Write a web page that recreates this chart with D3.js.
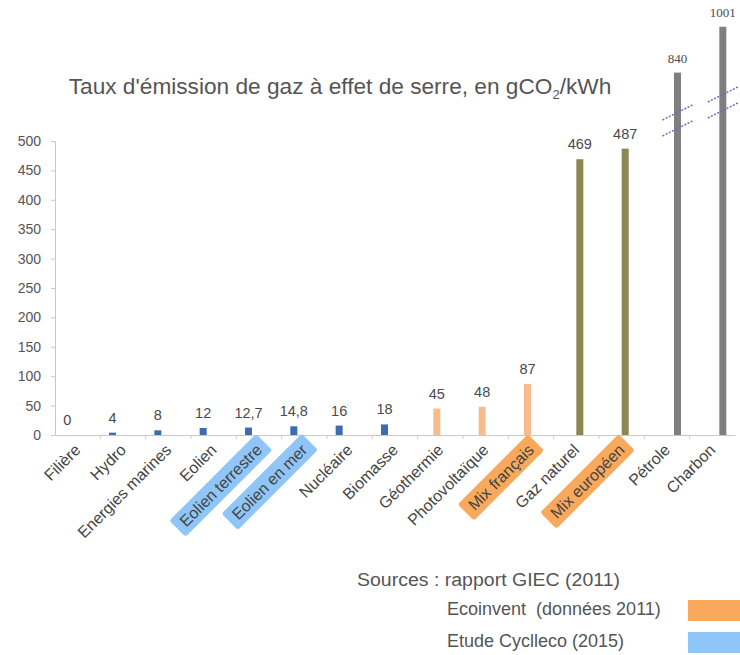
<!DOCTYPE html>
<html><head><meta charset="utf-8">
<script src="https://cdn.jsdelivr.net/npm/d3@7"></script>
<style>body{margin:0;background:#fff;} svg{display:block;font-family:Arial,"Liberation Sans",sans-serif;}</style>
</head><body>
<svg id="chart" width="740" height="655"></svg>
<script>
// ---- data ----
const categories = ["Filière","Hydro","Energies marines","Eolien","Eolien terrestre","Eolien en mer","Nucléaire","Biomasse","Géothermie","Photovoltaïque","Mix français","Gaz naturel","Mix européen","Pétrole","Charbon"];
const values = [0,4,8,12,12.7,14.8,16,18,45,48,87,469,487,840,1001];
const valueLabels = ["0","4","8","12","12,7","14,8","16","18","45","48","87","469","487","840","1001"];
const seriesOf = [0,0,0,0,0,0,0,0,1,1,1,2,2,3,3];
const seriesColors = ["#3c6db2","#f8bc8c","#8c8753","#7f7f7f"];
const highlightOf = [null,null,null,null,"cycleco","cycleco",null,null,null,null,"ecoinvent",null,"ecoinvent",null,null];
const breakAt = [null,null,null,null,null,null,null,null,null,null,null,null,null,672,735];
const yTicks = [0,50,100,150,200,250,300,350,400,450,500];
const legendItems = [{key:"ecoinvent",label:"Ecoinvent  (données 2011)",color:"#f9a95b"},{key:"cycleco",label:"Etude Cyclleco (2015)",color:"#8fc5f8"}];
const sourceText = "Sources : rapport GIEC (2011)";

const svg = d3.select("#chart");
const textColor = "#555";

// scales
const x = d3.scaleBand().domain(categories).range([55, 735]).padding(0);
const bw = x.bandwidth();
const xSub = d3.scaleBand().domain([0,1,2,3]).range([bw/2-14, bw/2+14]);
// broken value axis: 0-500 linear, bars above 600 drawn on compressed segment
const y = d3.scaleLinear().domain([0,500,600,1000]).range([435,141,141,27]);

// title
const title = svg.append("text").attr("x",340).attr("y",94).attr("text-anchor","middle")
  .attr("fill",textColor).style("font-size","20px");
title.append("tspan").text("Taux d'émission de gaz à effet de serre, en gCO");
title.append("tspan").text("2").style("font-size","13px").attr("dy",5);
title.append("tspan").text("/kWh").attr("dy",-5);
const tw = title.node().getComputedTextLength();
title.style("font-size", (20*544/tw)+"px");

// y axis
const yAxisScale = d3.scaleLinear().domain([0,500]).range([435,141]);
const yAxis = svg.append("g").attr("transform","translate(55,0)")
  .call(d3.axisLeft(yAxisScale).tickValues(yTicks).tickSize(4).tickPadding(10));
yAxis.select(".domain").attr("stroke","#c8c8c8");
yAxis.selectAll(".tick line").attr("stroke","#c8c8c8");
yAxis.selectAll(".tick text").attr("fill",textColor).style("font-size","14px").attr("font-family","Arial, Liberation Sans, sans-serif");

// x axis
const xAxis = svg.append("g").attr("transform","translate(0,435)")
  .call(d3.axisBottom(x).tickSize(0).tickFormat(""));
xAxis.select(".domain").attr("stroke","#c8c8c8");
xAxis.selectAll(".tick line").remove();
svg.append("g").selectAll("line").data(categories.slice(1)).join("line")
  .attr("x1",d=>x(d)).attr("x2",d=>x(d)).attr("y1",435).attr("y2",439).attr("stroke","#c8c8c8");

// bars
const barX = (d,i)=> x(d) + xSub(seriesOf[i]);
svg.append("g").selectAll("rect").data(categories).join("rect")
  .attr("x",(d,i)=>barX(d,i)).attr("width",xSub.bandwidth())
  .attr("y",(d,i)=>y(values[i])).attr("height",(d,i)=>y(0)-y(values[i]))
  .attr("fill",(d,i)=>seriesColors[seriesOf[i]]);

// value labels
svg.append("g").selectAll("text").data(categories).join("text")
  .attr("x",(d,i)=>barX(d,i)+xSub.bandwidth()/2)
  .attr("y",(d,i)=>y(values[i])-10)
  .attr("text-anchor","middle").attr("fill","#4a4a4a")
  .style("font-size",(d,i)=>values[i]>500?"13px":"14.5px")
  .style("font-family",(d,i)=>values[i]>500?"'Liberation Serif',serif":"Arial,'Liberation Sans',sans-serif")
  .text((d,i)=>valueLabels[i]);

// break marks on the broken bars
const breakG = svg.append("g");
categories.forEach((d,i)=>{
  if(breakAt[i]==null) return;
  const cx = barX(d,i)+xSub.bandwidth()/2;
  const yc = y(breakAt[i]);
  [-8,8].forEach(off=>{
    breakG.append("line")
      .attr("x1",cx-15).attr("y1",yc+off+7.5)
      .attr("x2",cx+15).attr("y2",yc+off-7.5)
      .attr("stroke","#7468cc").attr("stroke-width",1.5).attr("stroke-dasharray","2,1.5");
  });
});

// x labels
const lab = svg.append("g").selectAll("g").data(categories).join("g")
  .attr("transform",d=>`translate(${x(d)+bw/2+4},451) rotate(-45)`);
lab.each(function(d,i){
  const g = d3.select(this);
  const t = g.append("text").attr("text-anchor","end").attr("fill","#444")
    .style("font-size","16px").text(d);
  if(highlightOf[i]){
    const bb = t.node().getBBox();
    const col = legendItems.find(l=>l.key===highlightOf[i]).color;
    g.insert("rect","text").attr("x",bb.x-7).attr("y",bb.y-3)
      .attr("width",bb.width+14).attr("height",bb.height+6)
      .attr("rx",3).attr("fill",col);
  }
});

// sources + legend
svg.append("text").attr("x",357).attr("y",586).attr("fill",textColor)
  .style("font-size","18px").attr("textLength",263).attr("lengthAdjust","spacingAndGlyphs").text(sourceText);
const leg = svg.append("g").selectAll("g").data(legendItems).join("g")
  .attr("transform",(d,i)=>`translate(0,${i*32})`);
leg.append("text").attr("x",447).attr("y",615).attr("fill",textColor)
  .style("font-size","18px").style("white-space","pre").text(d=>d.label);
leg.append("rect").attr("x",688).attr("y",600).attr("width",52).attr("height",21)
  .attr("fill",d=>d.color);
</script>
</body></html>
